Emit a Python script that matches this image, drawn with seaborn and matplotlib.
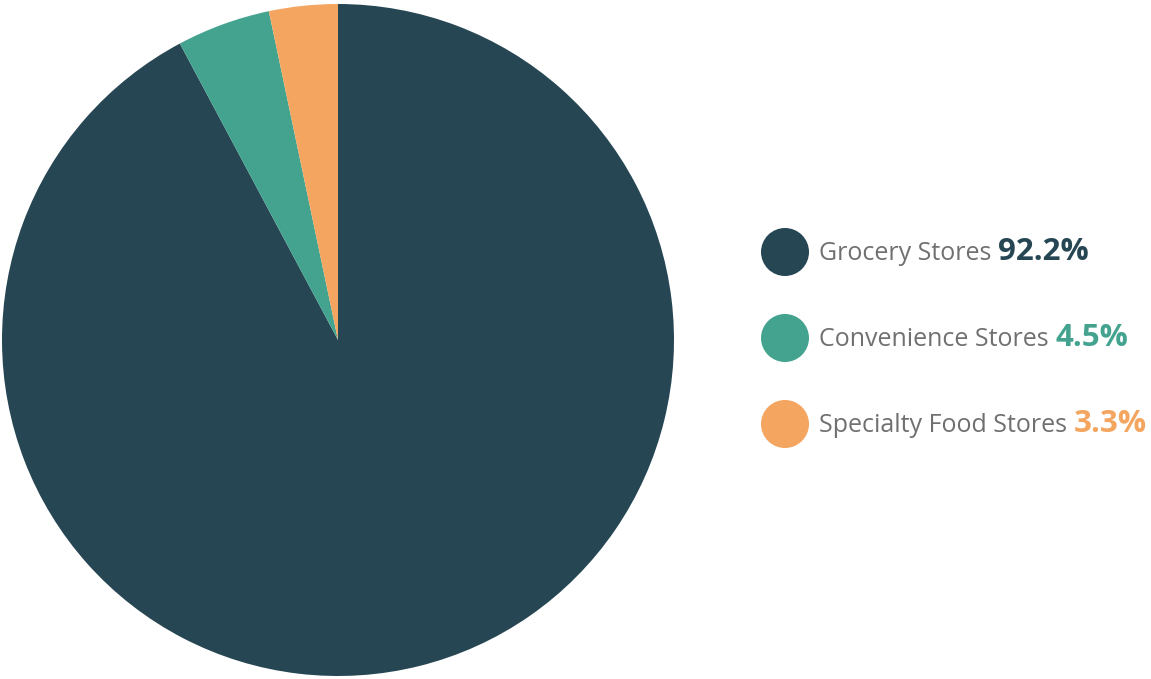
import matplotlib
matplotlib.use("Agg")
import matplotlib.pyplot as plt
import seaborn as sns
from matplotlib.patches import Circle

sns.set_theme(style="white")
plt.rcParams["font.family"] = ["Open Sans", "DejaVu Sans"]

categories = ["Grocery Stores", "Convenience Stores", "Specialty Food Stores"]
shares = [92.2, 4.5, 3.3]
colors = ["#264653", "#43A38F", "#F4A55F"]

W, H = 1151, 679
fig = plt.figure(figsize=(W / 100, H / 100), dpi=100)
fig.patch.set_facecolor("white")

# pie area
ax = fig.add_axes([2 / W, 3 / H, 672 / W, 672 / H])
ax.pie(shares, colors=colors, startangle=90, counterclock=False,
       radius=1.0, wedgeprops=dict(linewidth=0))
ax.set_xlim(-1, 1)
ax.set_ylim(-1, 1)
ax.set_aspect("equal")
ax.axis("off")

# legend drawn in pixel coordinates
lax = fig.add_axes([0, 0, 1, 1])
lax.set_xlim(0, W)
lax.set_ylim(H, 0)
lax.axis("off")

fig.canvas.draw()
renderer = fig.canvas.get_renderer()
ys = [252, 338, 424]
for name, val, col, y in zip(categories, shares, colors, ys):
    lax.add_patch(Circle((785, y), 24, color=col, lw=0))
    t = lax.text(819, y + 1, name, fontsize=18, color="#707070",
                 va="center", ha="left")
    bb = t.get_window_extent(renderer=renderer)
    x_end = lax.transData.inverted().transform((bb.x1, 0))[0]
    lax.text(x_end + 7, y, f"{val}%", fontsize=22.5, color=col,
             fontweight="bold", va="center", ha="left")

fig.savefig("out.png", dpi=100, facecolor="white")
